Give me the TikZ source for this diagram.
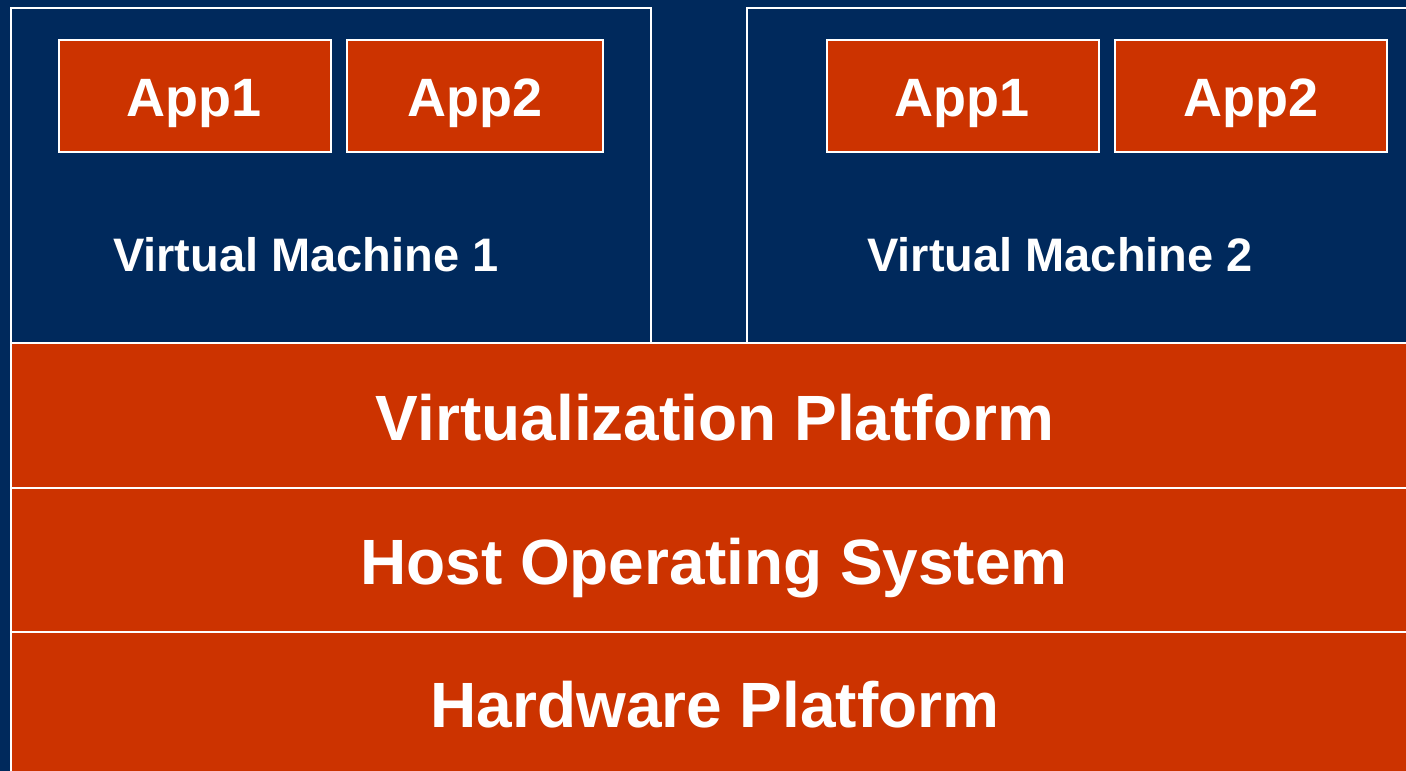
\documentclass[tikz,border=0pt]{standalone}
\usepackage{fontspec}
\setmainfont{Liberation Sans}
\definecolor{navy}{RGB}{0,41,92}
\definecolor{rust}{RGB}{204,51,0}
\begin{document}
\begin{tikzpicture}[x=1pt,y=-1pt,
  vmbox/.style={draw=white,line width=2pt,fill=navy},
  layer/.style={draw=white,line width=2pt,fill=rust},
  appbox/.style={draw=white,line width=1.5pt,fill=rust},
  apptext/.style={text=white,font=\fontsize{54}{60}\selectfont\bfseries,anchor=base,inner sep=0pt},
  vmtext/.style={text=white,font=\fontsize{47}{52}\selectfont\bfseries,anchor=base,inner sep=0pt},
  laytext/.style={text=white,font=\fontsize{64}{70}\selectfont\bfseries,anchor=base,inner sep=0pt}]
\useasboundingbox (0,0) rectangle (1406,771);
\fill[navy] (0,0) rectangle (1406,771);
% virtual machines
\draw[vmbox] (11,8) rectangle (651,343);
\draw[vmbox] (747,8) rectangle (1430,343);
% layers
\draw[layer] (11,343) rectangle (1430,488);
\draw[layer] (11,488) rectangle (1430,632);
\draw[layer] (11,632) rectangle (1430,790);
% apps
\draw[appbox] (59,40) rectangle (331,152);
\draw[appbox] (347,40) rectangle (603,152);
\draw[appbox] (827,40) rectangle (1099,152);
\draw[appbox] (1115,40) rectangle (1387,152);
\node[apptext] (a11) at (194,116) {App1};
\node[apptext] (a12) at (475,116) {App2};
\node[apptext] (a21) at (962,116) {App1};
\node[apptext] (a22) at (1251,116) {App2};
\node[vmtext] (vm1) at (306,271) {Virtual Machine 1};
\node[vmtext] (vm2) at (1060,271) {Virtual Machine 2};
\node[laytext] (vp) at (715,440) {Virtualization Platform};
\node[laytext] (hos) at (714,584) {Host Operating System};
\node[laytext] (hw) at (715,727) {Hardware Platform};
\end{tikzpicture}
\end{document}
